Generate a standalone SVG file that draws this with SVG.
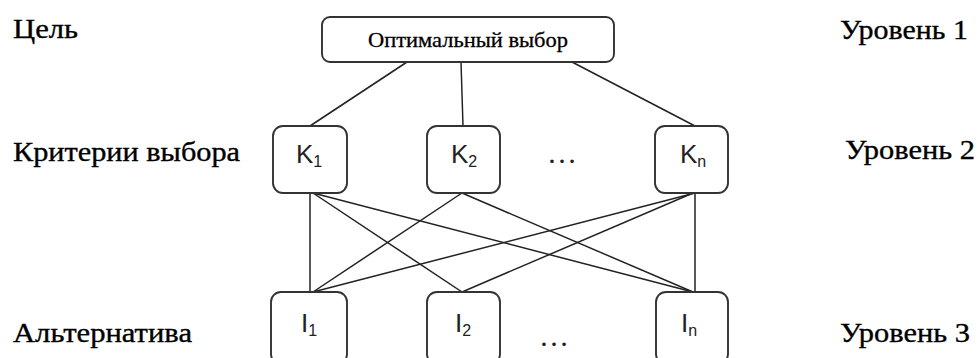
<svg xmlns="http://www.w3.org/2000/svg" width="978" height="358" viewBox="0 0 978 358">
<style>
.lbl{font-family:"Liberation Serif","DejaVu Serif",serif;font-size:27px;fill:#000;stroke:#000;stroke-width:0.35}
.box{fill:#fff;stroke:#333;stroke-width:1.9}
.nt{font-family:"Liberation Sans","DejaVu Sans",sans-serif;font-size:26px;fill:#222}
.sub{font-size:16px}
.top{font-family:"Liberation Serif","DejaVu Serif",serif;font-size:21px;fill:#000;stroke:#000;stroke-width:0.3}
.dots{font-family:"Liberation Serif",serif;font-size:30px;fill:#222}
#connectors line{stroke:#222;stroke-width:1.5}
</style>
<rect width="978" height="358" fill="#fff"/>
<g id="labels">
<text class="lbl" x="13" y="38" textLength="65" lengthAdjust="spacingAndGlyphs">Цель</text>
<text class="lbl" x="13" y="161" textLength="227" lengthAdjust="spacingAndGlyphs">Критерии выбора</text>
<text class="lbl" x="13" y="342" textLength="179" lengthAdjust="spacingAndGlyphs">Альтернатива</text>
<text class="lbl" x="840" y="39" textLength="128" lengthAdjust="spacingAndGlyphs">Уровень 1</text>
<text class="lbl" x="845" y="159" textLength="130" lengthAdjust="spacingAndGlyphs">Уровень 2</text>
<text class="lbl" x="840" y="342" textLength="130" lengthAdjust="spacingAndGlyphs">Уровень 3</text>
</g>
<g id="connectors">
<line x1="407" y1="62" x2="310" y2="126"/>
<line x1="461" y1="62" x2="463" y2="126"/>
<line x1="572" y1="62" x2="695" y2="126"/>
<line x1="310" y1="193" x2="310" y2="292"/>
<line x1="313" y1="193" x2="462" y2="292"/>
<line x1="313" y1="193" x2="693" y2="292"/>
<line x1="462" y1="193" x2="313" y2="292"/>
<line x1="462" y1="193" x2="693" y2="292"/>
<line x1="695" y1="193" x2="313" y2="292"/>
<line x1="693" y1="193" x2="462" y2="292"/>
<line x1="695" y1="193" x2="695" y2="292"/>
</g>
<g id="goal">
<rect class="box" x="322" y="17" width="292" height="45" rx="8"/>
<text class="top" x="468" y="47" text-anchor="middle" textLength="200" lengthAdjust="spacingAndGlyphs">Оптимальный выбор</text>
</g>
<g id="k1">
<rect class="box" x="273" y="126" width="74" height="67" rx="10"/>
<text class="nt" x="296" y="163">K<tspan class="sub" dy="4">1</tspan></text>
</g>
<g id="k2">
<rect class="box" x="427" y="126" width="73" height="67" rx="10"/>
<text class="nt" x="451" y="163">K<tspan class="sub" dy="4">2</tspan></text>
</g>
<text class="dots" x="562" y="163" text-anchor="middle">…</text>
<g id="kn">
<rect class="box" x="655" y="126" width="73" height="67" rx="10"/>
<text class="nt" x="680" y="163">K<tspan class="sub" dy="4">n</tspan></text>
</g>
<g id="i1">
<rect class="box" x="271" y="292" width="76" height="72" rx="10"/>
<text class="nt" x="301" y="332">I<tspan class="sub" dy="4">1</tspan></text>
</g>
<g id="i2">
<rect class="box" x="427" y="292" width="73" height="72" rx="10"/>
<text class="nt" x="455" y="332">I<tspan class="sub" dy="4">2</tspan></text>
</g>
<text class="dots" x="554" y="346" text-anchor="middle">…</text>
<g id="in">
<rect class="box" x="656" y="292" width="72" height="72" rx="10"/>
<text class="nt" x="681" y="332">I<tspan class="sub" dy="4">n</tspan></text>
</g>
</svg>
